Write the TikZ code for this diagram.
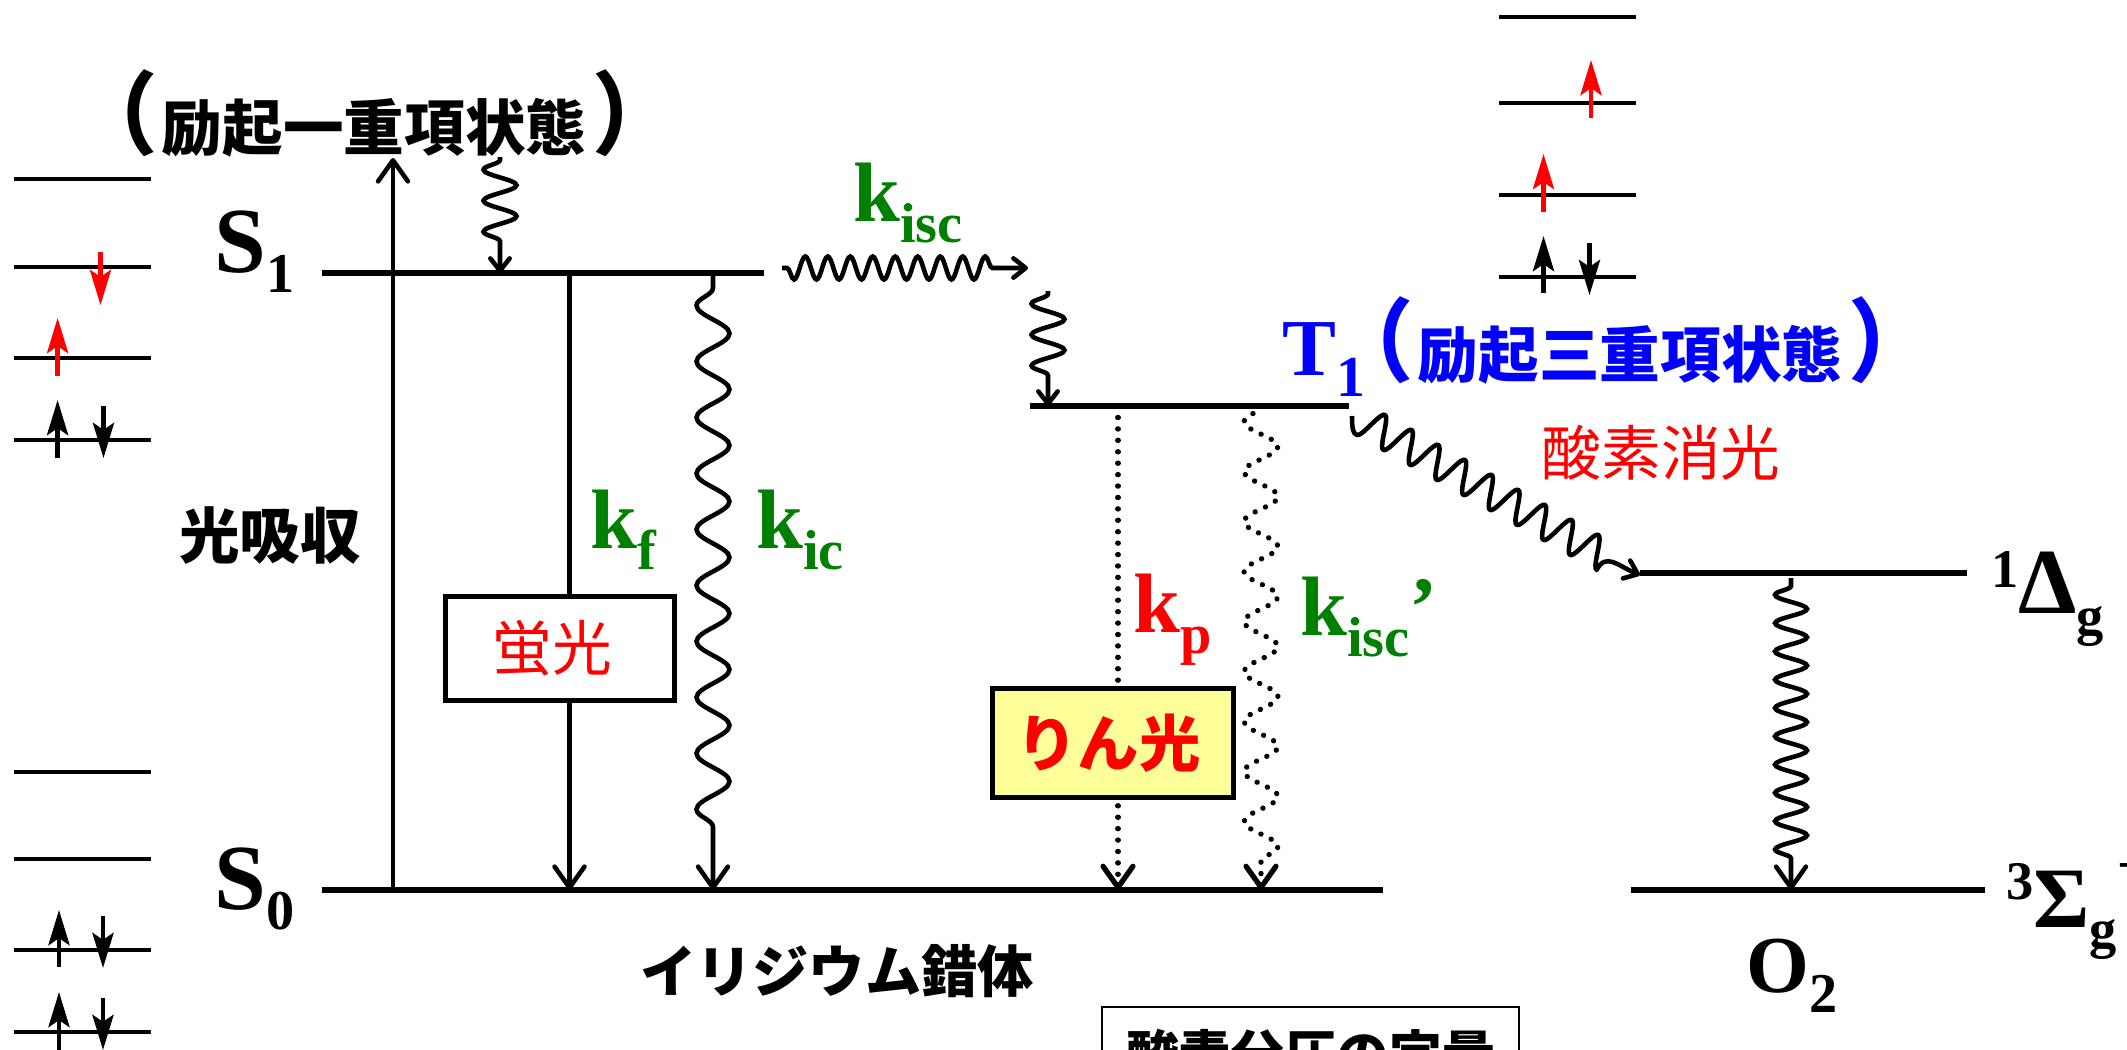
\documentclass[tikz,border=0pt]{standalone}
\usepackage{fontspec}
\setmainfont{Liberation Serif}
\newfontfamily\cjk{Noto Sans CJK JP}
\usetikzlibrary{positioning}
\usetikzlibrary{arrows.meta}
\usetikzlibrary{decorations.pathmorphing}
\definecolor{kgreen}{RGB}{0,128,0}
\definecolor{phosyellow}{RGB}{255,255,153}
\newcommand{\sz}[1]{\fontsize{#1pt}{#1pt}\selectfont}
\newcommand{\rbx}[3]{\raisebox{#1pt}{\sz{#2}#3}}
\newcommand{\lparen}{\raisebox{1.5pt}{\scalebox{1}[1.07]{\sz{48}（}}\kern2.5pt}
\newcommand{\rparen}{\kern3.5pt\raisebox{1.5pt}{\scalebox{1}[1.07]{\sz{48}）}}}
\tikzset{
  lvl/.style={line width=3.4pt},
  orb/.style={line width=2.8pt},
  spinup/.style={line width=2.6pt,-{Stealth[length=20pt,width=12pt,inset=4pt]}},
  barb/.style={line width=2.6pt,-{Straight Barb[length=12pt,width=17pt,round]}},
  smallbarb/.style={line width=2.6pt,-{Straight Barb[length=7pt,width=11pt,round]}},
  wavy/.style={decorate,decoration={snake,mirror}},
  dots/.style={dash pattern=on 0.1pt off 6.4pt,line cap=round,line width=3pt},
  lbl/.style={inner sep=0pt,anchor=base west,font=\bfseries\sz{48}},
  jlbl/.style={inner sep=0pt,font=\cjk\bfseries\sz{34.5}},
  lightbox/.style={draw,line width=3pt,inner sep=0pt,font=\cjk\sz{34},text=red}
}
\begin{document}
\begin{tikzpicture}[x=0.02cm,y=-0.02cm]
\useasboundingbox (0,0) rectangle (2127,1049);
% orbitals
\foreach \y in {179,267,358,440,772,859,950,1032} {
\draw[orb] (14,\y) -- (151,\y);
}
\foreach \y in {17,103,195,277} {
\draw[orb] (1499,\y) -- (1636,\y);
}
\draw[spinup,red] (100.5,252) -- (100.5,305);
\draw[spinup,red] (57.6,376) -- (57.6,318);
\draw[spinup] (57.6,458) -- (57.6,400);
\draw[spinup] (103.5,406) -- (103.5,458);
\draw[spinup] (59,967) -- (59,910);
\draw[spinup] (103,916) -- (103,968);
\draw[spinup] (59,1060) -- (59,992);
\draw[spinup] (103,998) -- (103,1050);
\draw[spinup,red] (1591,117.5) -- (1591,60);
\draw[spinup,red] (1543.5,212) -- (1543.5,154);
\draw[spinup] (1543.5,293) -- (1543.5,236);
\draw[spinup] (1589.5,243) -- (1589.5,295);
% levels
\coordinate (S1l) at (322,273);
\coordinate (S1r) at (764,273);
\coordinate (S0l) at (322,890);
\coordinate (S0r) at (1383,890);
\coordinate (T1l) at (1030,406);
\coordinate (T1r) at (1349,406);
\coordinate (D1l) at (1640,573);
\coordinate (D1r) at (1967,573);
\coordinate (Sg3l) at (1631,890);
\coordinate (Sg3r) at (1985,890);
\draw[lvl] (S1l) -- (S1r);
\draw[lvl] (S0l) -- (S0r);
\draw[lvl] (T1l) -- (T1r);
\draw[lvl] (D1l) -- (D1r);
\draw[lvl] (Sg3l) -- (Sg3r);
% transitions
\coordinate (abstop) at (393,158);
\draw[barb] (S0l -| abstop) -- (abstop);
\coordinate (relaxtop) at (500,157);
\draw[smallbarb,wavy,decoration={segment length=0.62cm,amplitude=0.33cm,pre length=0.06cm,post length=0.38cm}] (relaxtop) -- (S1l -| relaxtop);
\coordinate (kf) at (569.5,273);
\draw[barb] (kf) -- (S0l -| kf);
\coordinate (kic) at (713,275);
\draw[barb,wavy,decoration={segment length=1.12cm,amplitude=0.33cm,pre length=0.26cm,post length=1.1cm}] (kic) -- (S0l -| kic);
\coordinate (iscl) at (782,268);
\coordinate (iscr) at (1028,268);
\draw[smallbarb,wavy,decoration={segment length=0.45cm,amplitude=0.23cm,pre length=0.1cm,post length=0.52cm}] (iscl) -- (iscr);
\coordinate (isctop) at (1048,291);
\draw[smallbarb,wavy,decoration={segment length=0.62cm,amplitude=0.33cm,pre length=0.06cm,post length=0.38cm}] (isctop) -- (T1l -| isctop);
\coordinate (kp) at (1118,406);
\draw[barb,dots] (kp) -- (S0l -| kp);
\coordinate (kisc) at (1261,406);
\draw[barb,dots,wavy,decoration={segment length=1cm,amplitude=0.34cm,post length=0.3cm}] (kisc) -- (S0l -| kisc);
\coordinate (qstart) at (1352,416);
\coordinate (qend) at (1640,575);
\draw[smallbarb,line join=round] (qstart) .. controls (1352,428) and (1353,434) .. (1356.7,434.8)
-- plot[domain=-0.25:8.75,samples=160] ({1370.8+26.67*\x+7.5*sin(360*\x)},{424.9+15*\x-13.8*sin(360*\x)})
.. controls (1606,552) and (1618,566) .. (qend);
\coordinate (o2top) at (1791,578);
\draw[barb,wavy,decoration={segment length=0.566cm,amplitude=0.32cm,pre length=0.16cm,post length=0.45cm}] (o2top) -- (Sg3l -| o2top);
% boxes
\node[lightbox,fill=white,minimum width=229*0.02cm,minimum height=104*0.02cm] (flbox) at (560,648.5) {蛍光\kern9pt};
\node[lightbox,fill=phosyellow,minimum width=241*0.02cm,minimum height=109*0.02cm,font=\cjk\bfseries\sz{35}] (phbox) at (1113,743) {りん光\kern5pt};
\node[draw,line width=1.2pt,fill=white,anchor=north,minimum width=417*0.02cm,minimum height=94*0.02cm,inner sep=0pt,font=\cjk\bfseries\sz{30}] (o2box) at (1310.5,1006) {酸素分圧の定量};
% labels
\node[lbl,font=\bfseries\sz{53}] (s1lab) at (214,272) {S\rbx{-11.4}{32}{1}};
\node[lbl,font=\bfseries\sz{53}] (s0lab) at (214,909) {S\rbx{-11.4}{32}{0}};
\node[lbl,text=blue,font=\bfseries\sz{46}] (t1lab) at (1282.5,375) {T\rbx{-12.5}{33}{1}};
\node[lbl,text=kgreen] (kisclab) at (853,221) {k\rbx{-12.5}{32}{isc}};
\node[lbl,text=kgreen] (kflab) at (590,548) {k\rbx{-12.5}{32}{f}};
\node[lbl,text=kgreen] (kiclab) at (756,548) {k\rbx{-12.5}{32}{ic}};
\node[lbl,text=red] (kplab) at (1133,632) {k\rbx{-12.5}{32}{p}};
\node[lbl,text=kgreen] (kisc2lab) at (1300,635) {k\rbx{-12.5}{32}{isc}’};
\node[lbl,font=\bfseries\sz{53}] (dlab) at (1991,613) {\rbx{14.8}{31}{1}Δ\rbx{-12.5}{31}{g}};
\node[lbl,font=\bfseries\sz{49}] (slab) at (2006,927) {\rbx{15.4}{31}{3}Σ\rbx{-11.4}{31}{g}\rbx{25}{31}{−}};
\node[lbl,font=\bfseries\sz{46}] (o2lab) at (1746,992) {O\rbx{-11.4}{32}{2}};
\node[jlbl,anchor=base] (s1name) at (375,150) {\lparen 励起一重項状態\rparen};
\node[jlbl,anchor=base,text=blue] (t1name) at (1631,377) {\lparen 励起三重項状態\rparen};
\node[jlbl,font=\cjk\sz{34},text=red] (quench) at (1661,453) {酸素消光};
\node[jlbl] (abslab) at (270,536) {光吸収};
\node[jlbl,font=\cjk\bfseries\sz{32}] (irlab) at (837,971) {イリジウム錯体};
\end{tikzpicture}
\end{document}
